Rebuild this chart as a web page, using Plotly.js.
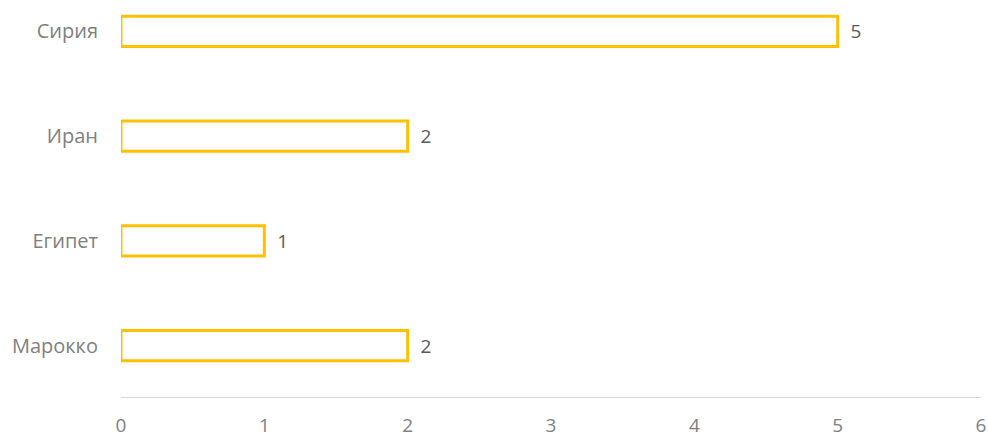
<!DOCTYPE html>
<html>
<head>
<meta charset="utf-8">
<script src="https://cdn.plot.ly/plotly-3.0.1.min.js"></script>
<style>html,body{margin:0;padding:0;background:#fff;}#chart{width:988px;height:437px;}</style>
</head>
<body>
<div id="chart"></div>
<script>
const categories = ["Марокко", "Египет", "Иран", "Сирия"];
const values = [2, 1, 2, 5];
const xTicks = [0, 1, 2, 3, 4, 5, 6];

const trace = {
  type: 'bar',
  orientation: 'h',
  y: categories,
  x: values,
  width: 0.29,
  marker: {color: '#ffffff', line: {color: '#FFC000', width: 3}},
  text: values.map(v => '  ' + v),
  textposition: 'outside',
  cliponaxis: false,
  textfont: {family: 'Open Sans, sans-serif', size: 19, color: '#595959'},
  hoverinfo: 'none'
};

const layout = {
  width: 988, height: 437,
  margin: {l: 121, r: 7, t: 0, b: 40},
  paper_bgcolor: '#fff', plot_bgcolor: '#fff',
  showlegend: false,
  font: {family: 'Open Sans, sans-serif', size: 19, color: '#808080'},
  xaxis: {
    range: [0, 6], tickvals: xTicks, ticktext: xTicks.map(String),
    showgrid: false, zeroline: false, showline: true, linecolor: '#d9d9d9', linewidth: 1,
    ticks: 'outside', ticklen: 11, tickcolor: 'rgba(0,0,0,0)',
    tickfont: {size: 19, color: '#808080'}, fixedrange: true
  },
  yaxis: {
    type: 'category', categoryorder: 'array', categoryarray: categories,
    range: [-0.49, 3.30],
    showgrid: false, zeroline: false, showline: false,
    ticks: 'outside', ticklen: 18, tickcolor: 'rgba(0,0,0,0)',
    tickfont: {size: 20, color: '#808080'}, fixedrange: true
  }
};

Plotly.newPlot('chart', [trace], layout, {displayModeBar: false, staticPlot: true});
</script>
</body>
</html>
